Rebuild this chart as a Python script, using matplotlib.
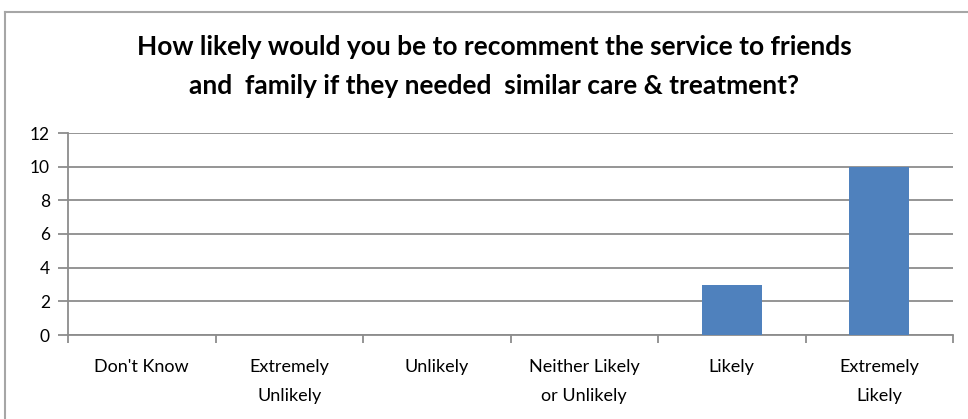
import matplotlib.pyplot as plt
import numpy as np

plt.rcParams['font.family'] = ['Lato', 'DejaVu Sans']

categories = ["Don't Know", "Extremely\nUnlikely", "Unlikely",
              "Neither Likely\nor Unlikely", "Likely", "Extremely\nLikely"]
counts = [0, 0, 0, 0, 3, 10]
y_ticks = [0, 2, 4, 6, 8, 10, 12]

W, H = 968, 419
fig = plt.figure(figsize=(W / 100, H / 100), dpi=100)

# outer chart frame (only top and left edges visible in the crop)
fig.add_artist(plt.Line2D([5 / W, 1], [1 - 12 / H, 1 - 12 / H], color='#a6a6a6', lw=1.5))
fig.add_artist(plt.Line2D([5 / W, 5 / W], [0, 1 - 12 / H], color='#a6a6a6', lw=1.5))

ax = fig.add_axes([68 / W, 1 - 335 / H, (953 - 68) / W, (335 - 133) / H])
x = np.arange(len(categories))
ax.bar(x, counts, width=0.41, color='#4f81bd', zorder=3)

ax.set_xlim(-0.5, len(categories) - 0.5)
ax.set_ylim(0, 12)
ax.set_yticks(y_ticks)
ax.set_yticklabels([str(v) for v in y_ticks], fontsize=12.5)
ax.yaxis.grid(True, color='#8c8c8c', lw=1.3, zorder=0)

ax.set_xticks(x)
ax.set_xticklabels(categories, fontsize=13, linespacing=2.0)
ax.set_xticks(np.arange(len(categories) + 1) - 0.5, minor=True)
ax.tick_params(axis='x', which='major', length=0, pad=17)
ax.tick_params(axis='x', which='minor', length=6, color='#8c8c8c', width=1.3)
ax.tick_params(axis='y', length=7, color='#8c8c8c', width=1.3, pad=6)

for s in ['top', 'right']:
    ax.spines[s].set_visible(False)
for s in ['left', 'bottom']:
    ax.spines[s].set_color('#8c8c8c')
    ax.spines[s].set_linewidth(1.3)

fig.text(494 / W, 1 - 47 / H, "How likely would you be to recomment the service to friends",
         ha='center', va='center', fontsize=19, fontweight='bold')
fig.text(494 / W, 1 - 86 / H, "and  family if they needed  similar care & treatment?",
         ha='center', va='center', fontsize=19, fontweight='bold')

fig.savefig('out.png', dpi=100)
